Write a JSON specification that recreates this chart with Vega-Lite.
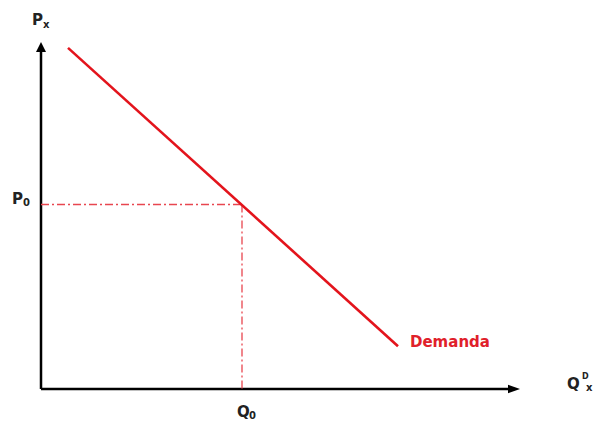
{
  "$schema": "https://vega.github.io/schema/vega-lite/v6.json",
  "width": 600,
  "height": 421,
  "padding": 0,
  "autosize": {"type": "fit", "contains": "padding"},
  "background": "white",
  "config": {"view": {"stroke": null}},
  "encoding": {
    "x": {"field": "Q", "type": "quantitative", "scale": {"domain": [-41, 559], "nice": false, "zero": false}, "axis": null},
    "y": {"field": "P", "type": "quantitative", "scale": {"domain": [-31, 390], "nice": false, "zero": false}, "axis": null}
  },
  "layer": [
    {
      "data": {"values": [
        {"Q": 0, "P": 0, "Q2": 0, "P2": 338},
        {"Q": 0, "P": 0, "Q2": 470, "P2": 0}
      ]},
      "mark": {"type": "rule", "color": "#000000", "strokeWidth": 2.5},
      "encoding": {"x2": {"field": "Q2"}, "y2": {"field": "P2"}}
    },
    {
      "data": {"values": [{"Q": 0, "P": 343}]},
      "mark": {"type": "point", "shape": "M0,-1L-1,1L1,1Z", "size": 100, "filled": true, "color": "#000000", "opacity": 1},
      "encoding": {}
    },
    {
      "data": {"values": [{"Q": 473, "P": 0}]},
      "mark": {"type": "point", "shape": "M1,0L-1,-0.7L-1,0.7Z", "size": 144, "filled": true, "color": "#000000", "opacity": 1},
      "encoding": {}
    },
    {
      "data": {"values": [
        {"Q": 0, "P": 185, "Q2": 201, "P2": 185},
        {"Q": 201, "P": 185, "Q2": 201, "P2": 0}
      ]},
      "mark": {"type": "rule", "color": "#e8464f", "strokeWidth": 1.3, "strokeDash": [8, 3, 2, 3]},
      "encoding": {"x2": {"field": "Q2"}, "y2": {"field": "P2"}}
    },
    {
      "data": {"values": [
        {"Q": 27, "P": 342},
        {"Q": 357, "P": 43}
      ]},
      "mark": {"type": "line", "color": "#e3141c", "strokeWidth": 2.6},
      "encoding": {}
    },
    {
      "data": {"values": [
        {"Q": -9, "P": 365, "t": "P"},
        {"Q": -29, "P": 186, "t": "P"},
        {"Q": 196, "P": -28, "t": "Q"},
        {"Q": 526, "P": 0, "t": "Q"}
      ]},
      "mark": {"type": "text", "align": "left", "baseline": "alphabetic", "font": "DejaVu Sans", "fontWeight": "bold", "fontSize": 15, "color": "#222222"},
      "encoding": {"text": {"field": "t"}}
    },
    {
      "data": {"values": [
        {"Q": 2, "P": 362, "t": "x"},
        {"Q": -18, "P": 184, "t": "0"},
        {"Q": 208, "P": -30, "t": "0"},
        {"Q": 545, "P": -2, "t": "x"}
      ]},
      "mark": {"type": "text", "align": "left", "baseline": "alphabetic", "font": "DejaVu Sans", "fontWeight": "bold", "fontSize": 10, "color": "#222222"},
      "encoding": {"text": {"field": "t"}}
    },
    {
      "data": {"values": [{"Q": 541, "P": 10, "t": "D"}]},
      "mark": {"type": "text", "align": "left", "baseline": "alphabetic", "font": "DejaVu Sans", "fontWeight": "bold", "fontSize": 8, "color": "#222222"},
      "encoding": {"text": {"field": "t"}}
    },
    {
      "data": {"values": [{"Q": 369, "P": 42, "t": "Demanda"}]},
      "mark": {"type": "text", "align": "left", "baseline": "alphabetic", "font": "DejaVu Sans", "fontWeight": "bold", "fontSize": 15, "color": "#e0202a"},
      "encoding": {"text": {"field": "t"}}
    }
  ]
}
